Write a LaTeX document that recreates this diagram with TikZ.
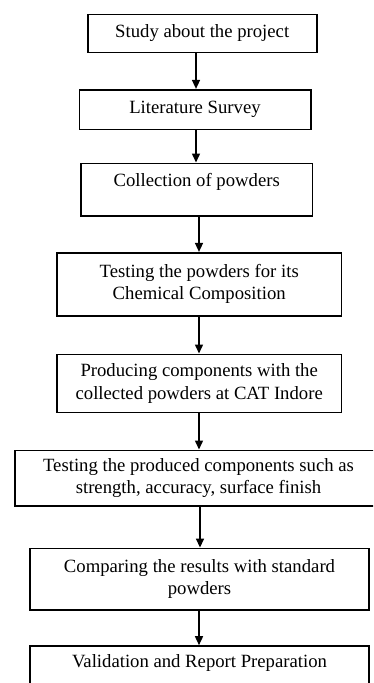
\documentclass[tikz,border=0pt]{standalone}
\usepackage{fontspec}
\setmainfont{Liberation Serif}
\usetikzlibrary{arrows.meta}
\tikzset{
  stepbox/.style={draw, line width=1.6pt, rectangle, inner sep=0pt, align=center,
    font=\fontsize{18.7}{22.4}\selectfont},
  arr/.style={line width=1.5pt, -{Triangle[width=8pt,length=9pt]}}
}
\begin{document}
\begin{tikzpicture}[x=1pt,y=-1pt]
\useasboundingbox (0,0) rectangle (373,683);
\clip (0,0) rectangle (373,683);
\fill[white] (0,0) rectangle (373,683);
\node[stepbox, minimum width=229pt, minimum height=38pt] (b1) at (202.2,33.3) {Study about the project};
\node[stepbox, minimum width=231.4pt, minimum height=39.6pt] (b2) at (195,109.5) {Literature Survey};
\node[stepbox, minimum width=231.3pt, minimum height=52.4pt, text height=12.8pt, text depth=18.8pt] (b3) at (196.7,189.5) {Collection of powders};
\node[stepbox, minimum width=284.3pt, minimum height=63pt] (b4) at (199.2,284.2) {Testing the powders for its\\Chemical Composition};
\node[stepbox, minimum width=284.3pt, minimum height=58pt] (b5) at (199.2,383.3) {Producing components with the\\collected powders at CAT Indore};
\node[stepbox, minimum width=367pt, minimum height=55.4pt] (b6) at (198.5,478) {Testing the produced components such as\\strength, accuracy, surface finish};
\node[stepbox, minimum width=339pt, minimum height=61.7pt] (b7) at (199.5,579.2) {Comparing the results with standard\\powders};
\node[stepbox, minimum width=339pt, minimum height=53pt, text height=12.8pt, text depth=22.4pt] (b8) at (199.5,672.5) {Validation and Report Preparation};
\draw[arr] ([xshift=-6.2pt]b1.south) -- ([xshift=1pt]b2.north);
\draw[arr] ([xshift=1pt]b2.south) -- ([xshift=-0.7pt]b3.north);
\draw[arr] ([xshift=2.3pt]b3.south) -- ([xshift=-0.2pt]b4.north);
\draw[arr] ([xshift=-0.2pt]b4.south) -- ([xshift=-0.2pt]b5.north);
\draw[arr] ([xshift=-0.2pt]b5.south) -- ([xshift=0.5pt]b6.north);
\draw[arr] ([xshift=1.5pt]b6.south) -- ([xshift=0.5pt]b7.north);
\draw[arr] ([xshift=-0.5pt]b7.south) -- ([xshift=-0.5pt]b8.north);
\end{tikzpicture}
\end{document}
